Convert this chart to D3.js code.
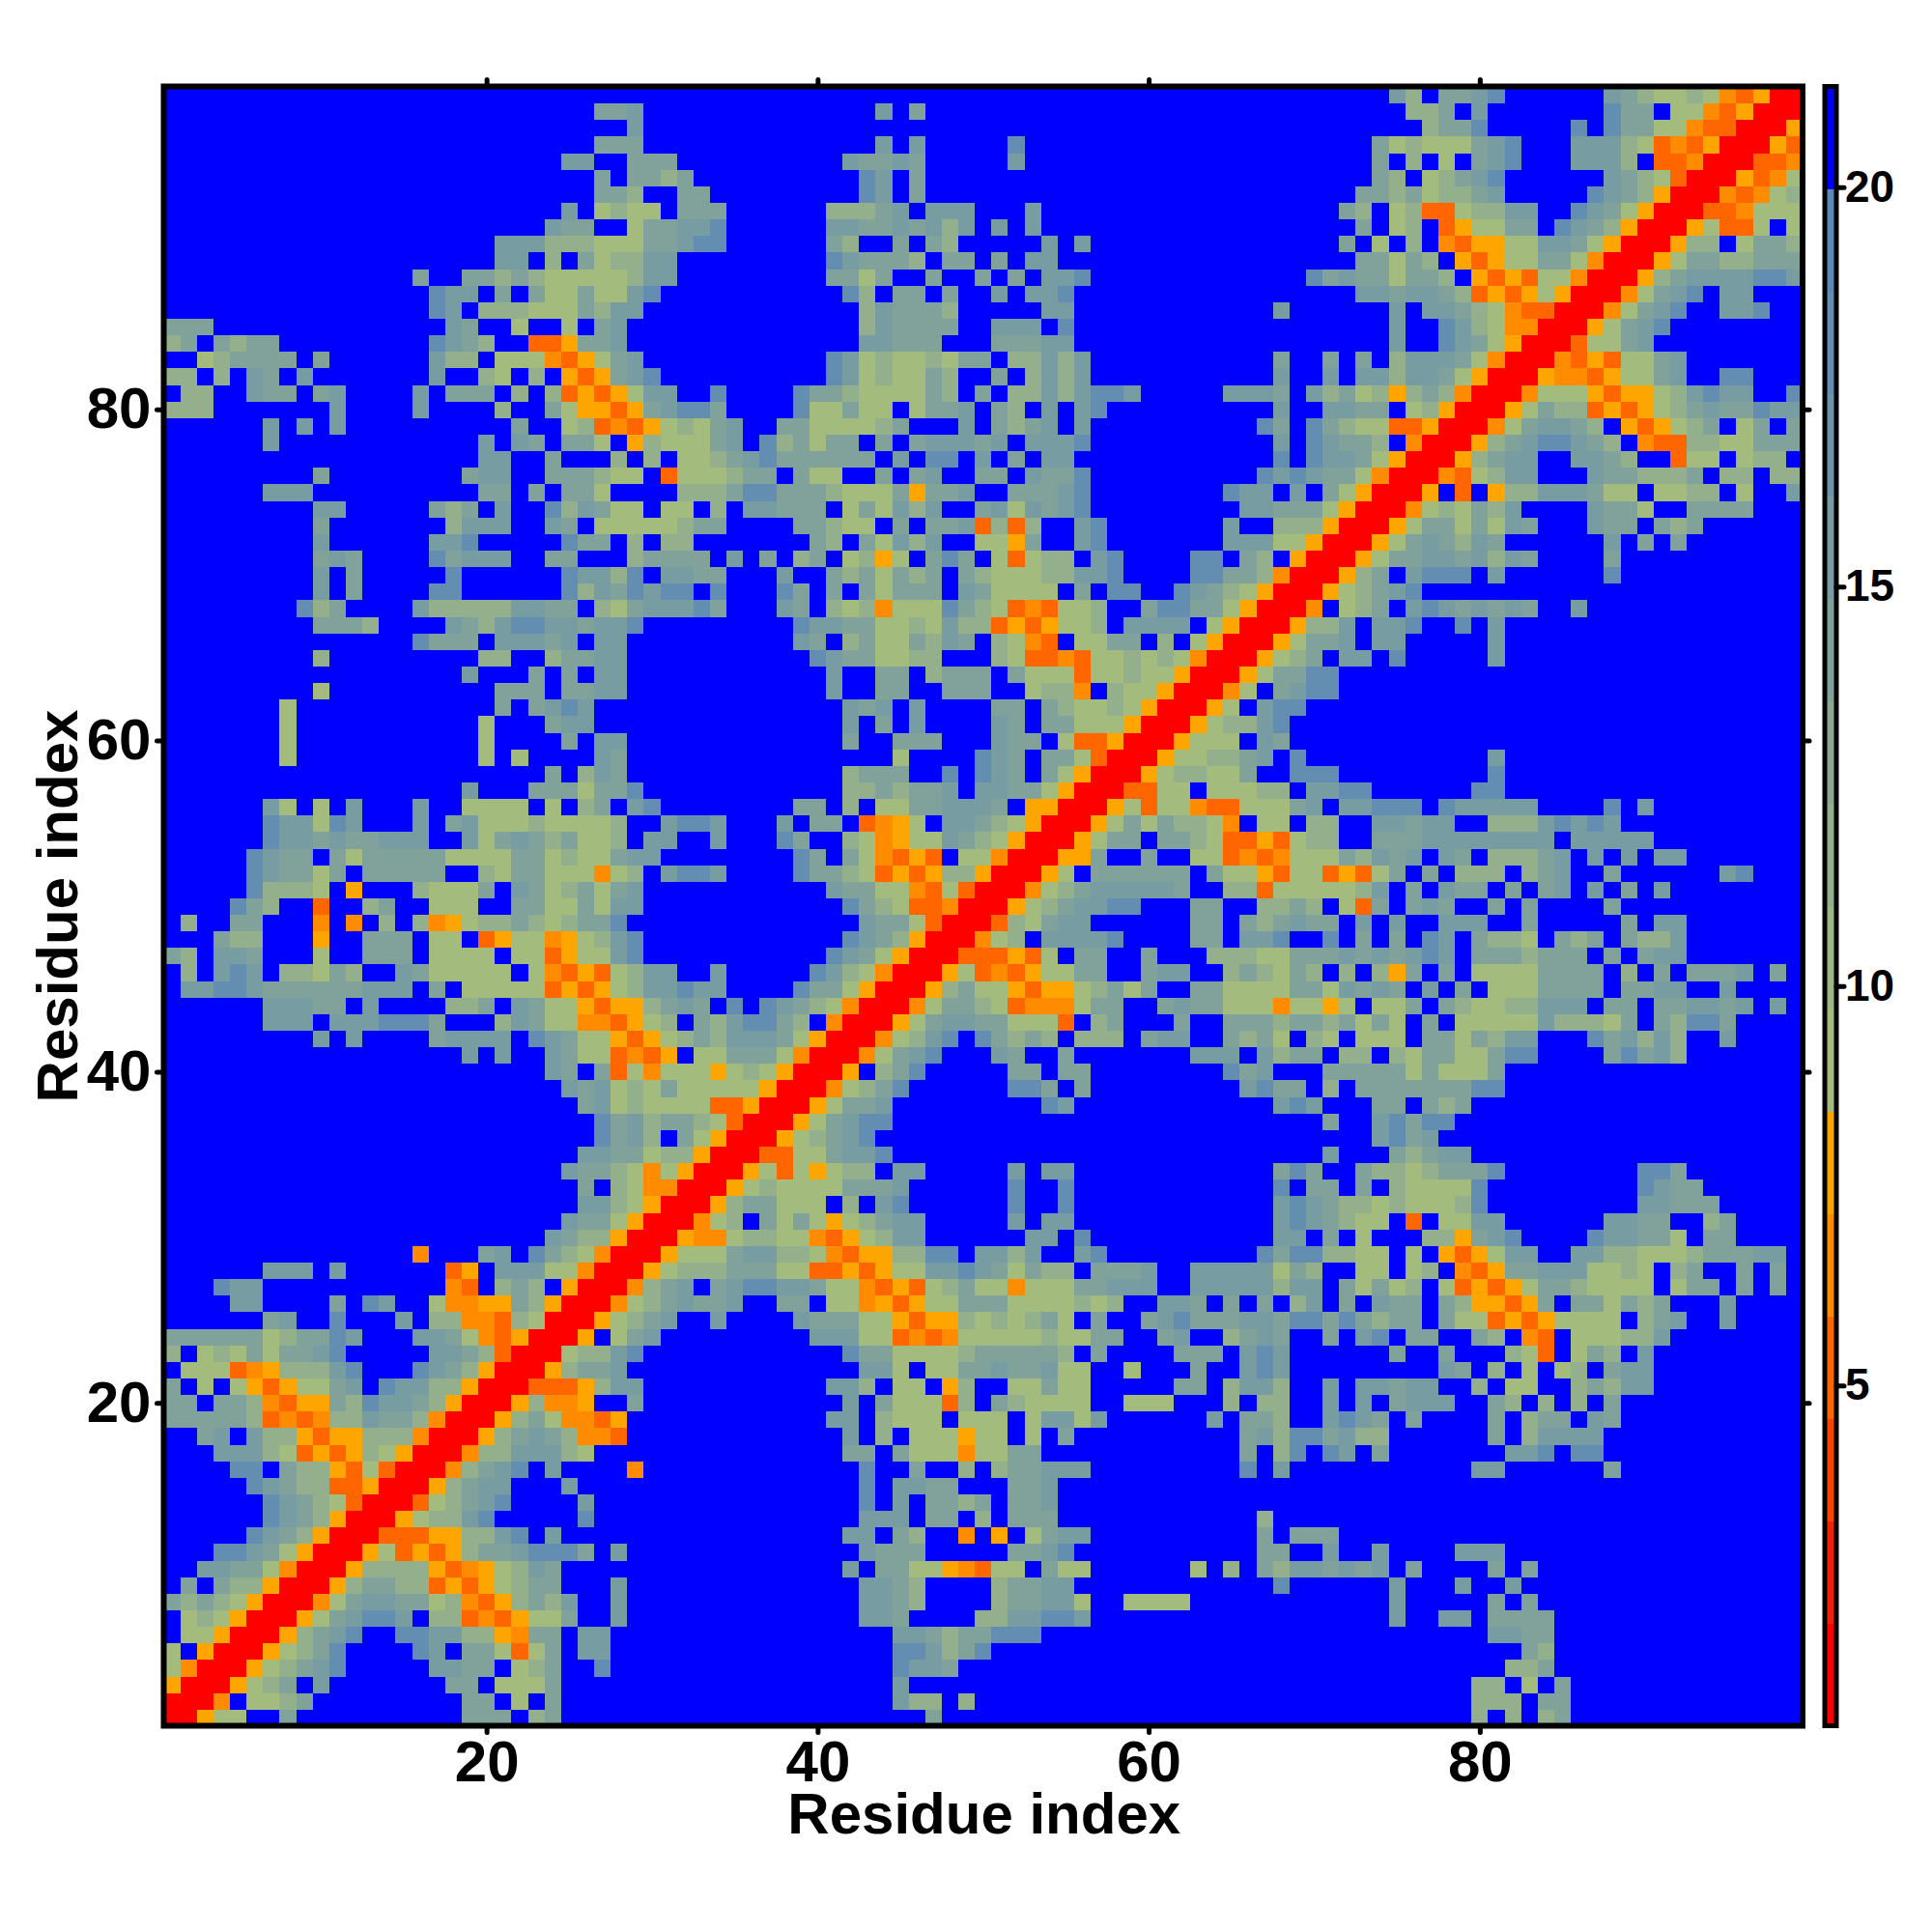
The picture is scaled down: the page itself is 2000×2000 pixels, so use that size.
<!DOCTYPE html>
<html><head><meta charset="utf-8">
<script src="https://cdn.jsdelivr.net/npm/d3@7"></script>
<style>html,body{margin:0;background:#fff}svg{display:block}text{font-family:"Liberation Sans",Arial,sans-serif;font-weight:bold;fill:#000}</style>
</head><body><svg id="c" width="2000" height="2000"></svg>
<script>
// Upper triangle of the symmetric map, bottom row first, run-length coded. Blocks: residues 1-25, 26-50, 51-75, 76-99.
const rows1to25 = [
"RRQaa2.c10.3c.bc. 21.c3. 25. 4.b.b.bc14.",
"-RRP.aabc9.2c.a.c. 19.dbb.b. 25. 4.bbb.cc14.",
"2-RRQabc.d7.2c.3ac. 19.d5. 25. 4.bb.a.c14.",
"3-RRQabcde5.ddcc.abc. .e17.eddc2. 25. 6.bbc15.",
"4-RRQabce4.ed.ccaOac. dd17.eedbce 25. 7.cb15.",
"5-RRQbcde2.eeddbbQPcc. dd17.ddcbcc eee22. 5.ddcc15.",
"6-RRQacdeed.bbOPOQaac 2.d14.ddc4.b bddeed18.d 2.dd.cccc15.",
"7-RRPacddccabPOQbcbd 2.d14.ddcb4. bccdda2.4a12.d 5.c.c16.",
"8-RRQbccbbOQOQabcc. 2.d14.ddcb4. bccdd12.e6.d 3.d2.d17.",
"9-RRQbbbbQOPQabdc. 16.d.ccaaQPO aa.caa6.a.b.cbddcdcd. c4.c.c16.",
"10-RRQaOQOQbccdeee c.d14.dccc4. .ccde11.cc2.d2.d. 3.ddd18.",
"11-RROOOQQbbde.d. 16.dd.cb2.P. Q.acdd10.c.ccc4. 24.",
"12-RRQabbde5. e16.ddd.cc.b .ccc12.b8. 24.",
"13-RROabcde4. d16.e.d.ccbc .ccd21. 24.",
"14-RRQbcdd3.d 17.e.ddcc2. .ccd21. 24.",
"15-RRPbcde.d. 3.P13.e2.c2.b. bccddd9.e.d7. 4.dd6.c11.",
"16-RRPbbdddb a15.cc.caaaPa acc12.c.be.ed.c. 6.dde.ee12.",
"17-RRQbcdcb PPO13.d.b.aaaQa a.a.c10.cdbeecdbb. 5.c.bdddd12.",
"18-RRQbcaP POQ12.dd.baaa.aa a.addad6.d.ccb2.dedc. c4.c.bcc.dc11.",
"19-RRQbPP Q2.c12.d.caaaOb. cbaaaa2.3a3.b.bb2.d.d.c ddd2.cb.b.b.c11.",
"20-RROOO Qbdd11.ddb.aa.Qb. .aacaa5.cc.bddb2.d.ddc dd2.b.aa2.bcbdd9.",
"21-RRQb ccd14.dda.aacc dccdaa2.a3.c2.ded7. 2.dc.b.a.ab.cdd9.",
"22-RRa bbde12.eccaaaabc ccccb.c4.ccc.ded6.c 2.c3.baO.acb.d9.",
"23-RR Q.acd9.dddaaOPOPaa aaabaacc2.cd2.bcdc2.c.de. cc2.cb.PO.aaabbd8.",
"24-R RQabcd2.d4.dcccaaQOQQba babca.c2.cdecccddceececbc c.caaOQOQ4a.bcd2.d4."
];
const rows26to50 = [
"RRPabcdccd2.cc.aaPQOQaacc caaaabab2.ddc.c.c.bd.c.dc c.cbQQOQc.ccacbc3.d4.",
"-RRPbcd.cdeeddcaaPOQOabca aPaaaccddd2.5dbdd.caca b.aOQOQaccb4a.acc.c.c.",
"2-RRQabbbcccaaOOQOQaadded cacbb.cccd2.5dacb2.aa. ab.POQcc3daaba.bc2.c.c.",
"3-RRQaaacddbbaPOQQbbee.d dbd2.de9.eceebbaa. a.QOQadd2.ddbbaaabcccdd.",
"4-RRQPPabbaaPOQabdd4. 2.dd.e11.dd.c.a2. .bbQcde4.eddcca.cc4.",
"5-RRPab.cacaQabcdd4. .d.dd12.dedcbaa. O.aadd6.ddcc2.bc4.",
"6-RRQbccaaa.b.de5. .e2.e12.dedcbbab aaabe9.ddccc5.",
"7-RRQabaaaacccd5. .e2.e12.e.cc.c.b 4ae9.edcc6.",
"8-RRQaOaQabb.dd4. .d.dd12.cec2.cbb ab3ce8.eec7.",
"9-RROOaacdde6. 20.d3.c bcdd20.",
"10-RRQabcde7. 23.de cd22.",
"11-RRQacdee6. 20.c2.de cee21.",
"12-RRQaccd6. 3.ed12.ded3.cc .cbc20.",
"13-RRPabce5. .eec.c9.decc.b.ccc 4cee18.",
"14-RRQ.bce4. .cc.cc8.ecd3.5c ac3ac18.",
"15-RRPacde3. dc2.c7.ddd.dbcc.bb.b accaacee4.cecdb7.",
"16-RRPabde.e cbcb.bbb.cdd2.cbca.ba.aaa .ccacbdd3.ecdbdb2.d4.",
"17-RRQacddc caaaO.bc3.c2.cccbccbcaca .c.5ad3bac.cbeec4.",
"18-RRPaccb aOPPPacc2.cdccaaaPaaQa.aa c.cbaabb3d.cc.ccddcd.d.",
"19-RRQbca aQOQQabcac2.cc4accadcdc .d.c.3a4c.ccdd2.d4.",
"20-RRQaO POQaacc2.cdd2.bcbacb.b.bQ c.c.4a4c.b.c.3cd.c.",
"21-RROO OQOa.cc2.c3.3b2a3cdcdc ded.3cb3c.c.cdd7.",
"22-RRP ab.4de4.cc.dde2.e.c.c .ed.cbba.cbc.cbbd7.",
"23-RR Obacdd6.cc.cbcdcc.d.d 2.3d2.c5.c.dd7.",
"24-R RQabcddee3.cc2.bbcb.aOc. cdc2.c.c4.c11."
];
const rows51to75 = [
"RRPabc5dc2.bbO5abd. c.dcc.c.cd.d.c.d8.",
"-RRQa.6c.caaQOaaOQOac .c.3b.bcd2.c6.de3.",
"2-RRQQc2.c2.aaOPOP3acbdc d.dc.3bcd.d.d.dd7.",
"3-RRQacc.ccbaOOQOabb2.cc c8d.5d9.",
"4-RRQacacbbaP.aa.bb2.dd cdd2.3bdeded11.",
"5-RRQaOaaPOOaaacd.ddee e.e5d4.e.d9.",
"6-RROOaa.aaabb.ddee2. 4.ee18.",
"7-RRQabbaac2.eee4. 5.e18.",
"8-RRQaabbcd.e6. 5.d18.",
"9-RRQaaa.dc7. 24.",
"10-RRQabbde7. 24.",
"11-RRQa.dee6. 24.",
"12-RRPa.cdee4. 24.",
"13-RRQaccee4. 24.",
"14-RRQabc.dd.e 5.d18.",
"15-RRQaccd.dd 5.d18.",
"16-RRQbbd.dd e2.e.d18.",
"17-RRP.abc. dedcdcdc2.d13.",
"18-RRQabcd e23.",
"19-RRQbc. deee.d6.e11.",
"20-RRQac cddcdbdc4.c11.",
"21-RRQa cdcbdc6.d.c.c7.",
"22-RRQ accacadc3.dcc.cbc6.",
"23-RR Pabacbd4.dcca2.4c3.",
"24-R RQ.O.Qbb3dcaa.aabb.a2.d"
];
const rows76to99 = [
"RRPOabdd3.dcc3bc.bb.bb",
"-RRQbcdd2.ddcb2.Oaa.abb.",
"2-RRQbcdeedcb.POObbaa3c",
"3-RRPacddcb.QOQabc.ac.c",
"4-RRQacbbOQOQabcdccedd",
"5-RRP3aQOQQabdedd2.e",
"6-RRQPPOQaacd2.ee3.",
"7-RRPOQOaacd7.",
"8-RROaacd9.",
"9-RRQacde8.",
"10-RRPacde2.dde2.",
"11-RRPacde.dd3.",
"12-RRQbc4deed",
"13-RRQaccbb3c",
"14-RRQbb.accb",
"15-RRQaOOa.a",
"16-RROOPaaa",
"17-RRPOPab",
"18-RRQOPa",
"19-RROOP",
"20-RRQO",
"21-RRQ",
"22-RR",
"23-R"
];
const levelValues = {R:1.5,O:5.2,P:6.5,Q:7.8,a:9.1,b:11.7,c:14.2,d:15.5,e:18,".":21};
const barColors = ["#ff0000","#f42005","#fb4400","#ff6600","#ff8c00","#ffa500","#a3bc7e","#9cb684","#93af8b","#8aa992","#80a29a","#779ca2","#6d95a9","#638eb1","#5a88b8","#0000ff"];
const axisTicks = [20,40,60,80];
const barTicks = [5,10,15,20];
const axisTitle = "Residue index";

const N = 99, L = 169.5, R = 1866, T = 89.5, B = 1786.5;
const barDomain = [0.74, 21.26];
const decode = s => s.replace(/(\d+)(\D)/g, (m,n,c) => c.repeat(+n));
const blockLen = [25,25,25,24];
const matrix = Array.from({length:N},()=>new Array(N).fill(21));
[rows1to25,rows26to50,rows51to75,rows76to99].forEach((group,g)=>group.forEach((row,i)=>{
  const y = g*25 + i;
  row.split(" ").forEach((seg,k)=>{
    const b = g+k, start = b*25;
    const txt = decode(seg).padEnd(blockLen[b],".");
    for(let j=0;j<blockLen[b];j++){
      const ch = txt[j]; if(ch==="-") continue;
      const x = start+j; const v = levelValues[ch];
      matrix[y][x]=v; matrix[x][y]=v;
    }
  });
}));

const svg = d3.select("#c");
const x = d3.scaleLinear().domain([0.5,N+0.5]).range([L,R]);
const y = d3.scaleLinear().domain([0.5,N+0.5]).range([B,T]);
const thresholds = d3.range(1,barColors.length).map(i=>barDomain[0]+i*(barDomain[1]-barDomain[0])/barColors.length);
const color = d3.scaleThreshold().domain(thresholds).range(barColors);

const cells=[]; matrix.forEach((r,j)=>r.forEach((v,i)=>cells.push({i:i+1,j:j+1,v})));
svg.append("g").attr("shape-rendering","crispEdges").selectAll("rect").data(cells).join("rect")
  .attr("x",d=>x(d.i-0.5)).attr("y",d=>y(d.j+0.5))
  .attr("width",x(1.5)-x(0.5)+0.5).attr("height",y(0.5)-y(1.5)+0.5)
  .attr("fill",d=>color(d.v));

function styleAxis(g,fs){
  g.select(".domain").remove();
  g.selectAll("line").attr("stroke","#000").attr("stroke-width",5).attr("stroke-linecap","round");
  g.selectAll("text").style("font-size",fs+"px").style("font-family",'"Liberation Sans",Arial,sans-serif').style("font-weight","bold").attr("fill","#000");
}
const fsMain=60;
svg.append("g").attr("transform",`translate(0,${B})`).call(d3.axisBottom(x).tickValues(axisTicks).tickSize(7).tickPadding(8)).call(styleAxis,fsMain);
svg.append("g").attr("transform",`translate(${L},0)`).call(d3.axisLeft(y).tickValues(axisTicks).tickSize(7).tickPadding(6)).call(styleAxis,fsMain);
svg.append("g").attr("transform",`translate(0,${T})`).call(d3.axisTop(x).tickValues(axisTicks).tickSize(7).tickFormat("")).call(styleAxis,fsMain);
svg.append("g").attr("transform",`translate(${R},0)`).call(d3.axisRight(y).tickValues(axisTicks).tickSize(7).tickFormat("")).call(styleAxis,fsMain);
svg.append("rect").attr("x",L).attr("y",T).attr("width",R-L).attr("height",B-T).attr("fill","none").attr("stroke","#000").attr("stroke-width",6);

svg.append("text").attr("x",(L+R)/2+1).attr("y",1898).attr("text-anchor","middle").style("font-size","60px").text(axisTitle);
svg.append("text").attr("transform",`translate(80,${(T+B)/2}) rotate(-90)`).attr("text-anchor","middle").style("font-size","60px").text(axisTitle);

// colour bar
const bx0=1889,bx1=1901;
const by=d3.scaleLinear().domain(barDomain).range([B,T]);
const edges=[barDomain[0],...thresholds,barDomain[1]];
svg.append("g").attr("shape-rendering","crispEdges").selectAll("rect").data(barColors).join("rect")
  .attr("x",bx0).attr("width",bx1-bx0).attr("y",(d,i)=>by(edges[i+1])).attr("height",(d,i)=>by(edges[i])-by(edges[i+1])+0.5).attr("fill",d=>d);
svg.append("rect").attr("x",bx0).attr("y",T).attr("width",bx1-bx0).attr("height",B-T).attr("fill","none").attr("stroke","#000").attr("stroke-width",5);
svg.append("g").attr("transform",`translate(${bx1},0)`).call(d3.axisRight(by).tickValues(barTicks).tickSize(8).tickPadding(1)).call(styleAxis,46);
</script></body></html>
